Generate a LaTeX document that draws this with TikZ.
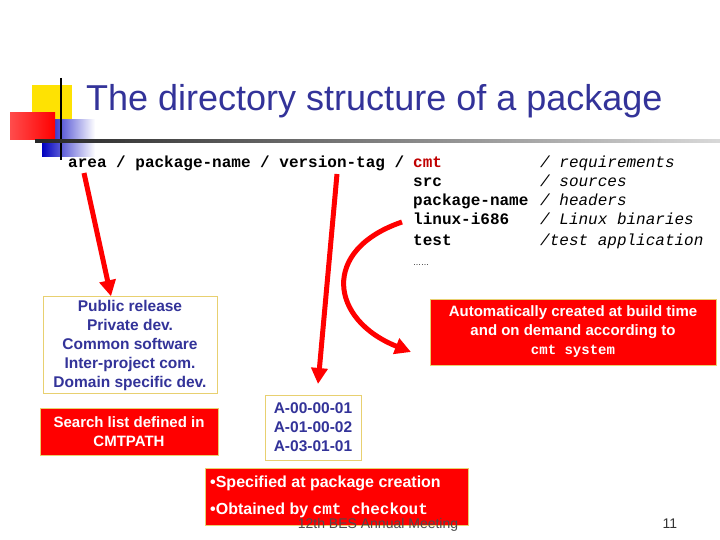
\documentclass[tikz,border=0pt]{standalone}
\usepackage{fontspec}
\setmainfont{Liberation Sans}
\newfontfamily\cour{Liberation Mono}
\usetikzlibrary{arrows.meta}
\definecolor{tblue}{HTML}{333399}
\definecolor{bred}{HTML}{FF0000}
\definecolor{cmtred}{HTML}{C00000}
\definecolor{byel}{HTML}{E8D070}
\tikzset{
 wbox/.style={draw=byel,line width=1pt,fill=white,text=tblue,font=\bfseries\fontsize{15.5}{19}\selectfont,align=center,inner sep=3pt},
 rbox/.style={draw=byel,line width=1pt,fill=bred,text=white,font=\bfseries\fontsize{15}{19}\selectfont,align=center,inner sep=3pt},
 mono/.style={font=\cour\bfseries\fontsize{16}{19}\selectfont,anchor=base west,inner sep=0pt},
 monoi/.style={font=\cour\itshape\fontsize{16}{19}\selectfont,anchor=base west,inner sep=0pt},
 rarrow/.style={draw=bred,line width=5pt,-{Triangle[length=16pt,width=16pt]}}
}
\begin{document}
\begin{tikzpicture}[x=1pt,y=-1pt]
\useasboundingbox (0,0) rectangle (720,540);
% logo
\fill[yellow!85!orange] (32,85) rectangle (72,125);
\shade[left color=blue!75!black,right color=white] (42,120) rectangle (95,157);
\shade[left color=red!70,right color=red] (10,113) rectangle (55,140);
\draw[line width=1.5pt] (61,78) -- (61,160);
\shade[left color=black!85,right color=black!15] (35,140) rectangle (720,142.5);
\node[text=tblue,font=\fontsize{36}{40}\selectfont,anchor=base west,inner sep=0pt] (title) at (86,111) {The directory structure of a package};
% path line
\node[mono] (path) at (68,168) {area / package-name / version-tag /};
\node[mono,text=cmtred] (cmt) at (413,168) {cmt};
\node[mono] (src) at (413,187) {src};
\node[mono] (pn) at (413,206) {package-name};
\node[mono] (lx) at (413,225) {linux-i686};
\node[mono] (tst) at (413,245) {test};
\node[monoi] (r1) at (540,168) {/ requirements};
\node[monoi] (r2) at (540,187) {/ sources};
\node[monoi] (r3) at (540,206) {/ headers};
\node[monoi] (r4) at (540,225) {/ Linux binaries};
\node[monoi] (r5) at (540,245) {/test application};
\node[font=\fontsize{8}{8}\selectfont,anchor=base west,inner sep=0pt] (dots) at (413,265) {……};
% boxes
\node[wbox,minimum width=174pt,minimum height=96pt] (pub) at (130,345) {Public release\\Private dev.\\Common software\\Inter-project com.\\Domain specific dev.};
\node[rbox,minimum width=178pt,minimum height=47pt] (search) at (129,431.5) {Search list defined in\\CMTPATH};
\node[wbox,minimum width=96pt,minimum height=65pt] (ver) at (313,427.5) {A-00-00-01\\A-01-00-02\\A-03-01-01};
\node[rbox,minimum width=286pt,minimum height=66pt] (auto) at (573,332) {Automatically created at build time\\and on demand according to\\{\cour\fontsize{14}{19}\selectfont cmt system}};
\node[rbox,minimum width=263pt,minimum height=57pt,anchor=north west,inner sep=0pt] (spec) at (205,468) {};
\node[anchor=base west,text=white,font=\bfseries\fontsize{16}{19}\selectfont,inner sep=0pt] (s1) at (210,487) {•Specified at package creation};
\node[anchor=base west,text=white,font=\bfseries\fontsize{16}{19}\selectfont,inner sep=0pt] (s2) at (210,514) {•Obtained by {\cour\fontsize{16}{19}\selectfont cmt checkout}};
% arrows
\coordinate (a1) at (84,173);
\coordinate (a2) at (337,174);
\coordinate (a3) at (402,222);
\draw[rarrow] (a1) -- (pub.north -| 111,0);
\draw[rarrow] (a2) -- (318,384);
\draw[rarrow] (a3) .. controls (320,250) and (330,320) .. (411,352);
% footer
\node[font=\fontsize{14}{16}\selectfont,text=black!70,anchor=base,inner sep=0pt] (foot) at (378,528) {12th BES Annual Meeting};
\node[font=\fontsize{14}{16}\selectfont,text=black!80,anchor=base,inner sep=0pt] (pg) at (670,528) {11};
\end{tikzpicture}
\end{document}
